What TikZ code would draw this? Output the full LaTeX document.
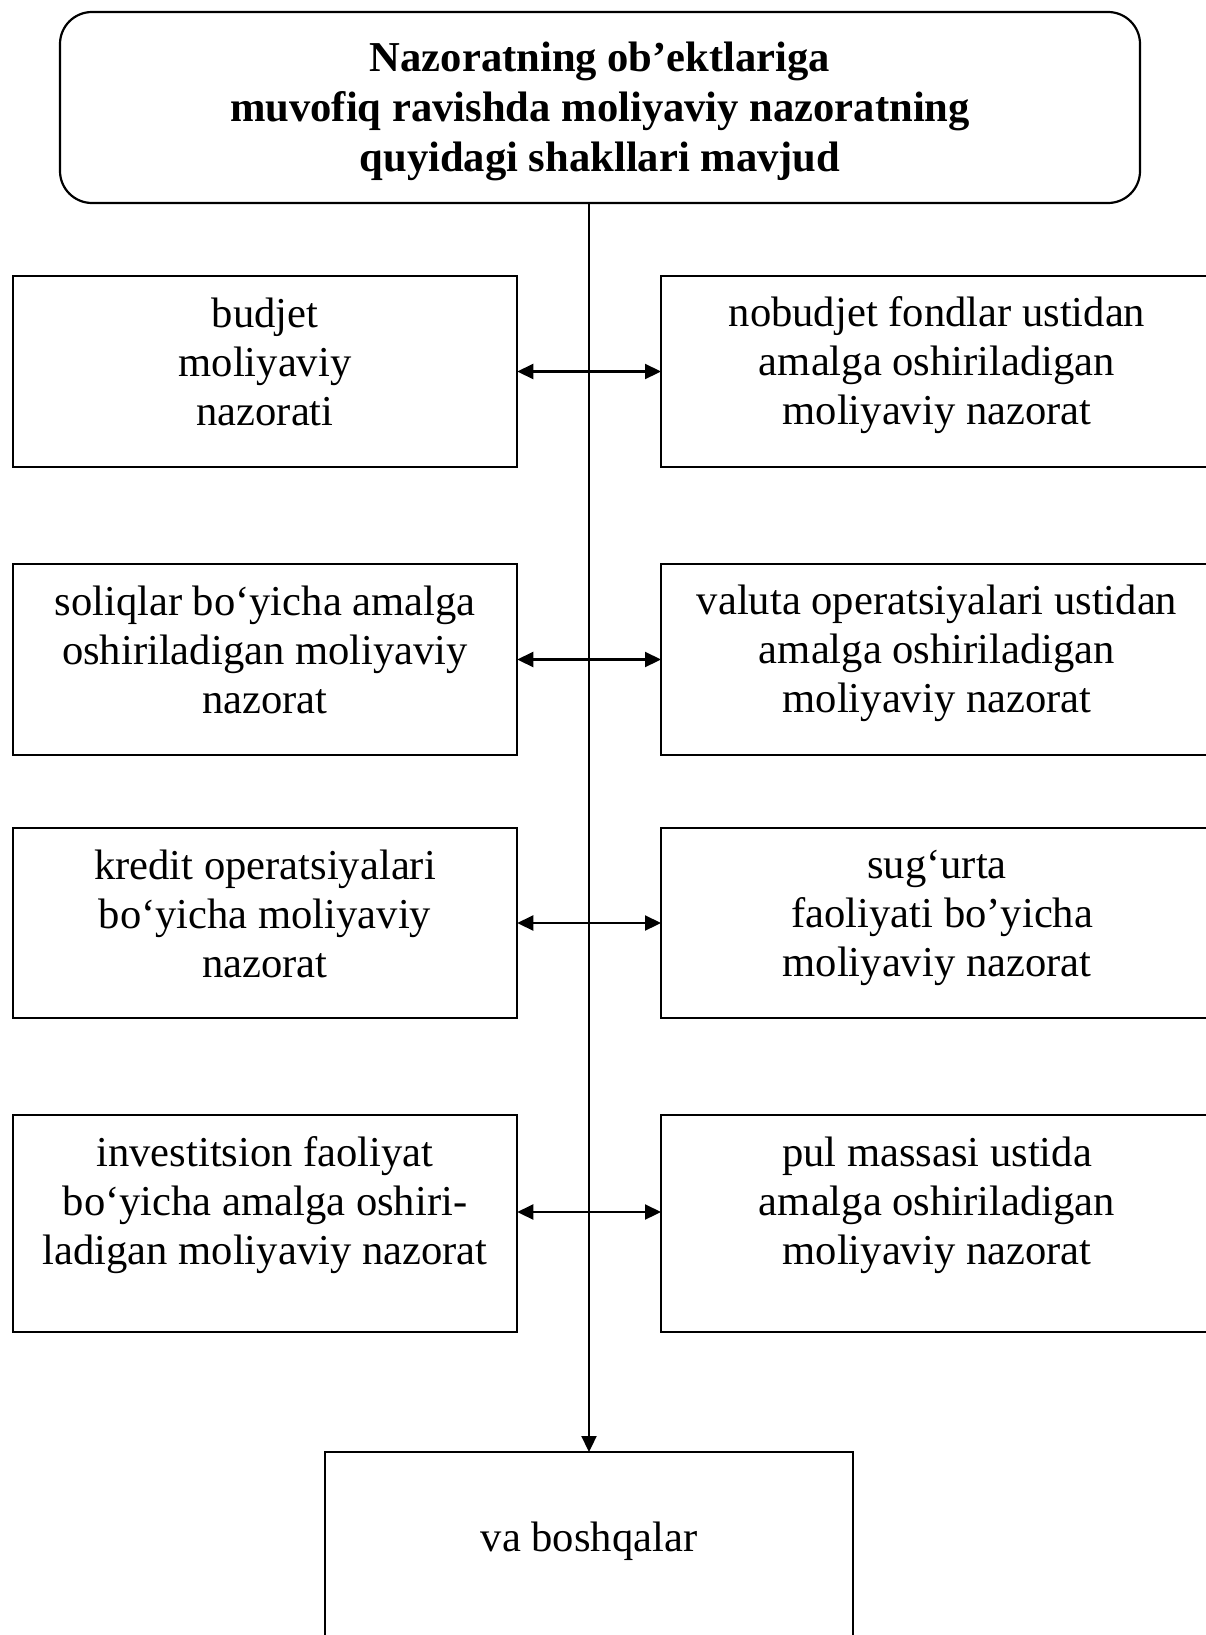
\documentclass[tikz,border=0pt]{standalone}
\usepackage{fontspec}
\setmainfont{Liberation Serif}
\usetikzlibrary{arrows.meta}
\tikzset{
  box/.style={draw, line width=2.2pt, rectangle, inner sep=0pt, outer sep=0pt},
  lbox/.style={box, minimum width=504.5pt},
  rbox/.style={box, minimum width=552pt},
  txt/.style={align=center, inner sep=0pt, font=\fontsize{42.6}{49}\selectfont},
  conn/.style={line width=2.2pt, arrows={Triangle[length=16pt,width=15pt]-Triangle[length=16pt,width=15pt]}},
  downarr/.style={line width=2.2pt, -{Triangle[length=16pt,width=15pt]}}
}
\begin{document}
\begin{tikzpicture}[x=1pt,y=-1pt]
\clip (0,0) rectangle (1206,1635);
\fill[white] (0,0) rectangle (1206,1635);
% title box
\node[box, rounded corners=32pt, minimum width=1080pt, minimum height=191pt] (top) at (600,107.5) {};
\node[txt, font=\fontsize{42.6}{50}\selectfont\bfseries] (ttop) at (600,111) {Nazoratning ob’ektlariga\\muvofiq ravishda moliyaviy nazoratning\\quyidagi shakllari mavjud};
% row 1
\node[lbox, minimum height=191pt] (L1) at (265,371.5) {};
\node[rbox, minimum height=191pt] (R1) at (937,371.5) {};
\node[txt] (tL1) at (265,362) {budjet\\moliyaviy\\nazorati};
\node[txt] (tR1) at (937,365) {nobudjet fondlar ustidan\\amalga oshiriladigan\\moliyaviy nazorat};
% row 2
\node[lbox, minimum height=191pt] (L2) at (265,659.5) {};
\node[rbox, minimum height=191pt] (R2) at (937,659.5) {};
\node[txt] (tL2) at (265,650) {soliqlar bo‘yicha amalga\\oshiriladigan moliyaviy\\nazorat};
\node[txt] (tR2) at (937,653) {valuta operatsiyalari ustidan\\amalga oshiriladigan\\moliyaviy nazorat};
% row 3
\node[lbox, minimum height=190pt] (L3) at (265,923) {};
\node[rbox, minimum height=190pt] (R3) at (937,923) {};
\node[txt] (tL3) at (265,914) {kredit operatsiyalari\\bo‘yicha moliyaviy\\nazorat};
\node[txt] (tR3) at (937,918) {sug‘urta\\\mbox{}\ faoliyati bo’yicha\\moliyaviy nazorat};
% row 4
\node[lbox, minimum height=217pt] (L4) at (265,1223.5) {};
\node[rbox, minimum height=217pt] (R4) at (937,1223.5) {};
\node[txt] (tL4) at (265,1205) {investitsion faoliyat\\bo‘yicha amalga oshiri-\\ladigan moliyaviy nazorat};
\node[txt] (tR4) at (937,1205) {pul massasi ustida\\amalga oshiriladigan\\moliyaviy nazorat};
% bottom box
\node[box, minimum width=528pt, minimum height=300pt] (bot) at (589,1602) {};
\node[txt] (tbot) at (589,1541.5) {va boshqalar};
% connectors
\draw[downarr] (top.south -| bot.north) -- (bot.north);
\draw[conn] (L1.east) -- (R1.west);
\draw[conn] (L2.east) -- (R2.west);
\draw[conn] (L3.east) -- (R3.west);
\draw[conn] ([yshift=11.5pt]L4.east) -- ([yshift=11.5pt]R4.west);
\end{tikzpicture}
\end{document}
